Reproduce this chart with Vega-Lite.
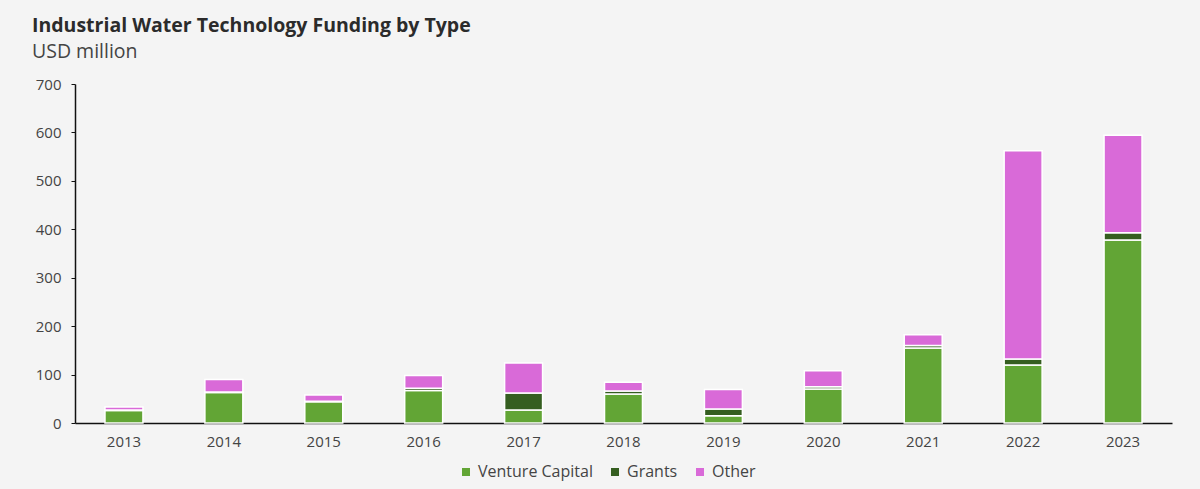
{
  "$schema": "https://vega.github.io/schema/vega-lite/v6.json",
  "autosize": "none",
  "width": 1097,
  "height": 339,
  "padding": {"left": 75, "top": 84, "right": 28, "bottom": 66},
  "background": "#f4f4f4",
  "title": {
    "text": "Industrial Water Technology Funding by Type",
    "subtitle": "USD million",
    "anchor": "start",
    "frame": "group",
    "dx": -43,
    "offset": 15,
    "font": "Open Sans",
    "fontSize": 19.5,
    "fontWeight": "bold",
    "color": "#2b2b2b",
    "subtitleFont": "Open Sans",
    "subtitleFontSize": 19.5,
    "subtitleColor": "#444444",
    "subtitlePadding": 6
  },
  "data": {
    "values": [
      {"year": "2013", "type": "Venture Capital", "value": 26, "k": 1},
      {"year": "2013", "type": "Grants", "value": 1, "k": 2},
      {"year": "2013", "type": "Other", "value": 6, "k": 3},
      {"year": "2014", "type": "Venture Capital", "value": 63, "k": 1},
      {"year": "2014", "type": "Grants", "value": 1, "k": 2},
      {"year": "2014", "type": "Other", "value": 26, "k": 3},
      {"year": "2015", "type": "Venture Capital", "value": 44, "k": 1},
      {"year": "2015", "type": "Grants", "value": 1, "k": 2},
      {"year": "2015", "type": "Other", "value": 13, "k": 3},
      {"year": "2016", "type": "Venture Capital", "value": 67, "k": 1},
      {"year": "2016", "type": "Grants", "value": 5, "k": 2},
      {"year": "2016", "type": "Other", "value": 26, "k": 3},
      {"year": "2017", "type": "Venture Capital", "value": 27, "k": 1},
      {"year": "2017", "type": "Grants", "value": 35, "k": 2},
      {"year": "2017", "type": "Other", "value": 62, "k": 3},
      {"year": "2018", "type": "Venture Capital", "value": 60, "k": 1},
      {"year": "2018", "type": "Grants", "value": 6, "k": 2},
      {"year": "2018", "type": "Other", "value": 18, "k": 3},
      {"year": "2019", "type": "Venture Capital", "value": 15, "k": 1},
      {"year": "2019", "type": "Grants", "value": 14, "k": 2},
      {"year": "2019", "type": "Other", "value": 40, "k": 3},
      {"year": "2020", "type": "Venture Capital", "value": 70, "k": 1},
      {"year": "2020", "type": "Grants", "value": 5, "k": 2},
      {"year": "2020", "type": "Other", "value": 33, "k": 3},
      {"year": "2021", "type": "Venture Capital", "value": 155, "k": 1},
      {"year": "2021", "type": "Grants", "value": 5, "k": 2},
      {"year": "2021", "type": "Other", "value": 22, "k": 3},
      {"year": "2022", "type": "Venture Capital", "value": 120, "k": 1},
      {"year": "2022", "type": "Grants", "value": 12, "k": 2},
      {"year": "2022", "type": "Other", "value": 430, "k": 3},
      {"year": "2023", "type": "Venture Capital", "value": 378, "k": 1},
      {"year": "2023", "type": "Grants", "value": 15, "k": 2},
      {"year": "2023", "type": "Other", "value": 201, "k": 3}
    ]
  },
  "mark": {"type": "bar", "stroke": "white", "strokeWidth": 1.5},
  "encoding": {
    "x": {
      "field": "year",
      "type": "nominal",
      "title": null,
      "scale": {"paddingInner": 0.62, "paddingOuter": 0.3},
      "axis": {
        "labelAngle": 0,
        "ticks": false,
        "domainColor": "#111111",
        "domainWidth": 1.5,
        "labelPadding": 11
      }
    },
    "y": {
      "field": "value",
      "type": "quantitative",
      "stack": "zero",
      "title": null,
      "scale": {"domain": [0, 700], "nice": false},
      "axis": {
        "values": [0, 100, 200, 300, 400, 500, 600, 700],
        "grid": false,
        "domainColor": "#111111",
        "domainWidth": 1.5,
        "tickColor": "#111111",
        "tickSize": 4,
        "labelPadding": 10
      }
    },
    "color": {
      "field": "type",
      "type": "nominal",
      "scale": {
        "domain": ["Venture Capital", "Grants", "Other"],
        "range": ["#62a535", "#355e20", "#d96ad8"]
      },
      "legend": {
        "title": null,
        "orient": "none",
        "direction": "horizontal",
        "legendX": 383,
        "legendY": 380,
        "symbolType": "square",
        "symbolSize": 64,
        "symbolStrokeWidth": 0,
        "labelFontSize": 16,
        "labelColor": "#444444",
        "labelFont": "Open Sans",
        "columnPadding": 14,
        "labelOffset": 4
      }
    },
    "order": {"field": "k", "type": "quantitative"}
  },
  "config": {
    "view": {"stroke": null},
    "axis": {
      "labelFont": "Open Sans",
      "labelFontSize": 15,
      "labelColor": "#444444"
    }
  }
}
